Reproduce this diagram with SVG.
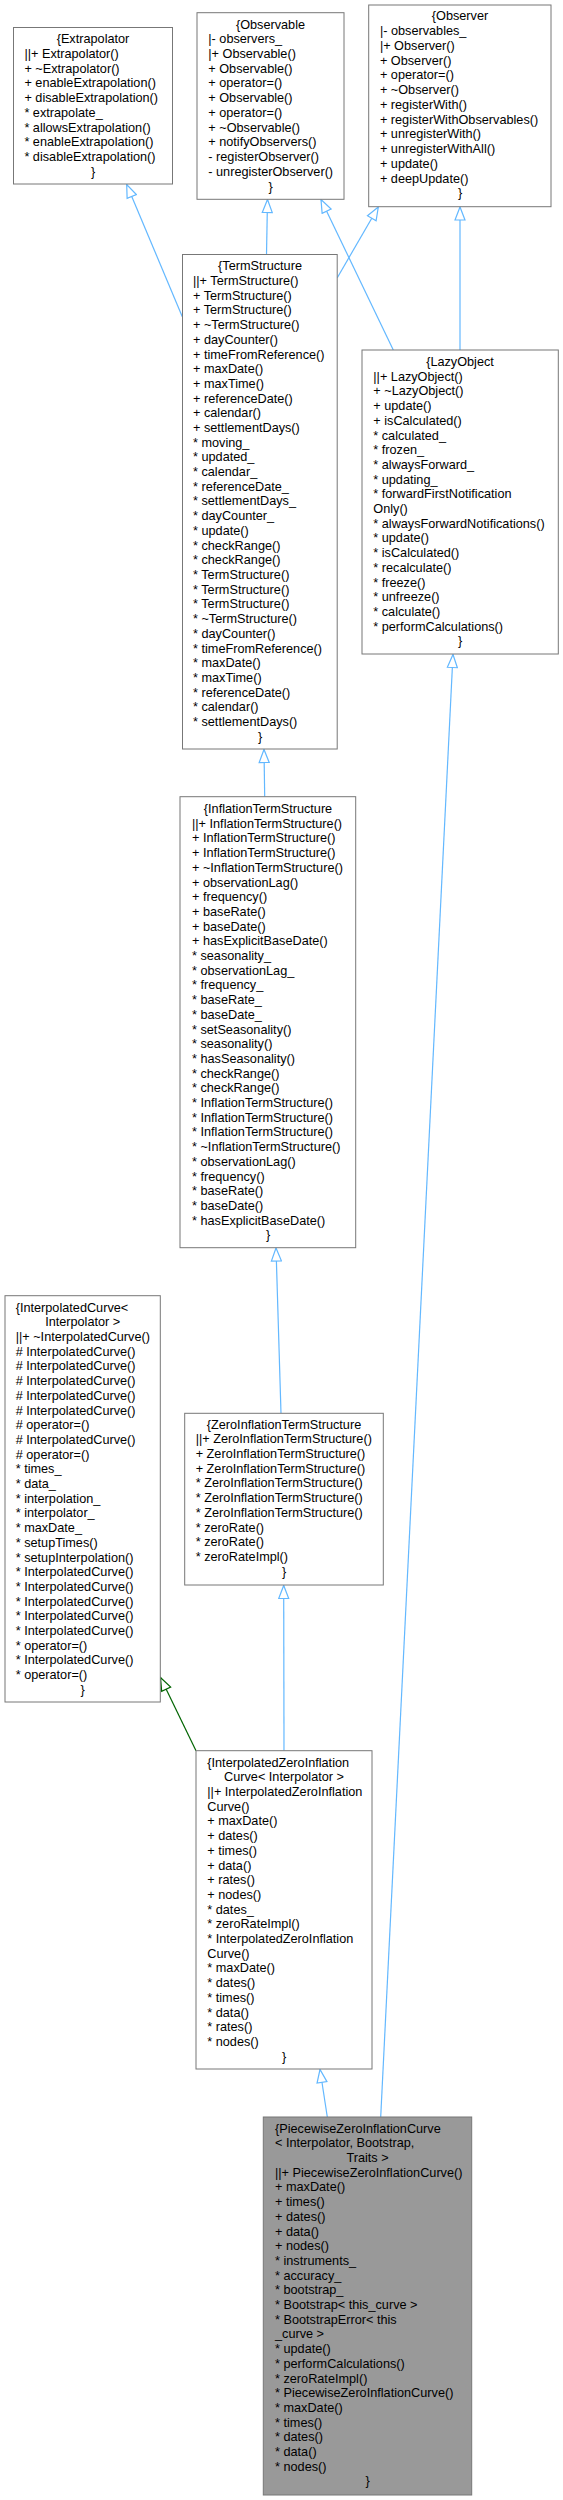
<svg xmlns="http://www.w3.org/2000/svg" width="563" height="2500" viewBox="0 0 563 2500">
<style>
text{font-family:"Liberation Sans",Arial,sans-serif;font-size:12.7px;fill:#000}
.c{text-anchor:middle}
.n rect{fill:#fff;stroke:#777;stroke-width:1}
.h rect{fill:#999}
.e{fill:none;stroke:#63B8FF;stroke-width:1.2}
.g{fill:none;stroke:#006400;stroke-width:1.2}
</style>
<defs>
<marker id="ab" markerWidth="16" markerHeight="12" refX="14" refY="6" orient="auto" markerUnits="userSpaceOnUse"><path d="M1,1 L14,6 L1,11 Z" fill="#fff" stroke="#63B8FF" stroke-width="1.2"/></marker>
<marker id="ag" markerWidth="16" markerHeight="12" refX="14" refY="6" orient="auto" markerUnits="userSpaceOnUse"><path d="M1,1 L14,6 L1,11 Z" fill="#fff" stroke="#006400" stroke-width="1.2"/></marker>
</defs>
<rect width="563" height="2500" fill="#fff"/>
<g id="connectors">
<path class="e" d="M182.3,316.7 L126.7,184.5" marker-end="url(#ab)"/>
<path class="e" d="M266.5,254.5 L267.5,199.5" marker-end="url(#ab)"/>
<path class="e" d="M393.3,350 L321,199.5" marker-end="url(#ab)"/>
<path class="e" d="M337.3,277.7 L378.3,207" marker-end="url(#ab)"/>
<path class="e" d="M460,350 L460,207" marker-end="url(#ab)"/>
<path class="e" d="M264.7,796.7 L264,749.5" marker-end="url(#ab)"/>
<path class="e" d="M281,1413.3 L276,1248" marker-end="url(#ab)"/>
<path class="e" d="M284,1750.7 L283.7,1585.5" marker-end="url(#ab)"/>
<path class="g" d="M196,1750.7 L160.5,1677.5" marker-end="url(#ag)"/>
<path class="e" d="M327.3,2117 L320,2069.5" marker-end="url(#ab)"/>
<path class="e" d="M380.7,2117 L453,654.5" marker-end="url(#ab)"/>
</g>
<g id="Extrapolator" class="n">
<rect x="13.5" y="27.5" width="159" height="156.5"/>
<text class="c" x="93" y="43.3">{Extrapolator</text>
<text x="24.4" y="58"><tspan x="24.4">||+ Extrapolator()</tspan><tspan x="24.4" dy="14.7">+ ~Extrapolator()</tspan><tspan x="24.4" dy="14.7">+ enableExtrapolation()</tspan><tspan x="24.4" dy="14.7">+ disableExtrapolation()</tspan><tspan x="24.4" dy="14.7">* extrapolate_</tspan><tspan x="24.4" dy="14.7">* allowsExtrapolation()</tspan><tspan x="24.4" dy="14.7">* enableExtrapolation()</tspan><tspan x="24.4" dy="14.7">* disableExtrapolation()</tspan></text>
<text class="c" x="93" y="175.6">}</text>
</g>
<g id="Observable" class="n">
<rect x="197" y="12.7" width="147" height="186.6"/>
<text class="c" x="270.5" y="28.6">{Observable</text>
<text x="208.3" y="43.3"><tspan x="208.3">|- observers_</tspan><tspan x="208.3" dy="14.7">|+ Observable()</tspan><tspan x="208.3" dy="14.7">+ Observable()</tspan><tspan x="208.3" dy="14.7">+ operator=()</tspan><tspan x="208.3" dy="14.7">+ Observable()</tspan><tspan x="208.3" dy="14.7">+ operator=()</tspan><tspan x="208.3" dy="14.7">+ ~Observable()</tspan><tspan x="208.3" dy="14.7">+ notifyObservers()</tspan><tspan x="208.3" dy="14.7">- registerObserver()</tspan><tspan x="208.3" dy="14.7">- unregisterObserver()</tspan></text>
<text class="c" x="270.5" y="190.6">}</text>
</g>
<g id="Observer" class="n">
<rect x="368.7" y="5" width="182.3" height="201.7"/>
<text class="c" x="460" y="20.3">{Observer</text>
<text x="379.9" y="35.2"><tspan x="379.9">|- observables_</tspan><tspan x="379.9" dy="14.75">|+ Observer()</tspan><tspan x="379.9" dy="14.75">+ Observer()</tspan><tspan x="379.9" dy="14.75">+ operator=()</tspan><tspan x="379.9" dy="14.75">+ ~Observer()</tspan><tspan x="379.9" dy="14.75">+ registerWith()</tspan><tspan x="379.9" dy="14.75">+ registerWithObservables()</tspan><tspan x="379.9" dy="14.75">+ unregisterWith()</tspan><tspan x="379.9" dy="14.75">+ unregisterWithAll()</tspan><tspan x="379.9" dy="14.75">+ update()</tspan><tspan x="379.9" dy="14.75">+ deepUpdate()</tspan></text>
<text class="c" x="460" y="197.3">}</text>
</g>
<g id="TermStructure" class="n">
<rect x="182.5" y="254.5" width="154.7" height="494.5"/>
<text class="c" x="260" y="270.3">{TermStructure</text>
<text x="193" y="285"><tspan x="193">||+ TermStructure()</tspan><tspan x="193" dy="14.7">+ TermStructure()</tspan><tspan x="193" dy="14.7">+ TermStructure()</tspan><tspan x="193" dy="14.7">+ ~TermStructure()</tspan><tspan x="193" dy="14.7">+ dayCounter()</tspan><tspan x="193" dy="14.7">+ timeFromReference()</tspan><tspan x="193" dy="14.7">+ maxDate()</tspan><tspan x="193" dy="14.7">+ maxTime()</tspan><tspan x="193" dy="14.7">+ referenceDate()</tspan><tspan x="193" dy="14.7">+ calendar()</tspan><tspan x="193" dy="14.7">+ settlementDays()</tspan><tspan x="193" dy="14.7">* moving_</tspan><tspan x="193" dy="14.7">* updated_</tspan><tspan x="193" dy="14.7">* calendar_</tspan><tspan x="193" dy="14.7">* referenceDate_</tspan><tspan x="193" dy="14.7">* settlementDays_</tspan><tspan x="193" dy="14.7">* dayCounter_</tspan><tspan x="193" dy="14.7">* update()</tspan><tspan x="193" dy="14.7">* checkRange()</tspan><tspan x="193" dy="14.7">* checkRange()</tspan><tspan x="193" dy="14.7">* TermStructure()</tspan><tspan x="193" dy="14.7">* TermStructure()</tspan><tspan x="193" dy="14.7">* TermStructure()</tspan><tspan x="193" dy="14.7">* ~TermStructure()</tspan><tspan x="193" dy="14.7">* dayCounter()</tspan><tspan x="193" dy="14.7">* timeFromReference()</tspan><tspan x="193" dy="14.7">* maxDate()</tspan><tspan x="193" dy="14.7">* maxTime()</tspan><tspan x="193" dy="14.7">* referenceDate()</tspan><tspan x="193" dy="14.7">* calendar()</tspan><tspan x="193" dy="14.7">* settlementDays()</tspan></text>
<text class="c" x="260" y="740.7">}</text>
</g>
<g id="LazyObject" class="n">
<rect x="362" y="350" width="196.3" height="304"/>
<text class="c" x="460" y="366">{LazyObject</text>
<text x="373.3" y="380.7"><tspan x="373.3">||+ LazyObject()</tspan><tspan x="373.3" dy="14.7">+ ~LazyObject()</tspan><tspan x="373.3" dy="14.7">+ update()</tspan><tspan x="373.3" dy="14.7">+ isCalculated()</tspan><tspan x="373.3" dy="14.7">* calculated_</tspan><tspan x="373.3" dy="14.7">* frozen_</tspan><tspan x="373.3" dy="14.7">* alwaysForward_</tspan><tspan x="373.3" dy="14.7">* updating_</tspan><tspan x="373.3" dy="14.7">* forwardFirstNotification</tspan><tspan x="373.3" dy="14.7">Only()</tspan><tspan x="373.3" dy="14.7">* alwaysForwardNotifications()</tspan><tspan x="373.3" dy="14.7">* update()</tspan><tspan x="373.3" dy="14.7">* isCalculated()</tspan><tspan x="373.3" dy="14.7">* recalculate()</tspan><tspan x="373.3" dy="14.7">* freeze()</tspan><tspan x="373.3" dy="14.7">* unfreeze()</tspan><tspan x="373.3" dy="14.7">* calculate()</tspan><tspan x="373.3" dy="14.7">* performCalculations()</tspan></text>
<text class="c" x="460" y="645.3">}</text>
</g>
<g id="InflationTermStructure" class="n">
<rect x="180" y="796.7" width="175.7" height="451"/>
<text class="c" x="268" y="813">{InflationTermStructure</text>
<text x="192" y="827.7"><tspan x="192">||+ InflationTermStructure()</tspan><tspan x="192" dy="14.7">+ InflationTermStructure()</tspan><tspan x="192" dy="14.7">+ InflationTermStructure()</tspan><tspan x="192" dy="14.7">+ ~InflationTermStructure()</tspan><tspan x="192" dy="14.7">+ observationLag()</tspan><tspan x="192" dy="14.7">+ frequency()</tspan><tspan x="192" dy="14.7">+ baseRate()</tspan><tspan x="192" dy="14.7">+ baseDate()</tspan><tspan x="192" dy="14.7">+ hasExplicitBaseDate()</tspan><tspan x="192" dy="14.7">* seasonality_</tspan><tspan x="192" dy="14.7">* observationLag_</tspan><tspan x="192" dy="14.7">* frequency_</tspan><tspan x="192" dy="14.7">* baseRate_</tspan><tspan x="192" dy="14.7">* baseDate_</tspan><tspan x="192" dy="14.7">* setSeasonality()</tspan><tspan x="192" dy="14.7">* seasonality()</tspan><tspan x="192" dy="14.7">* hasSeasonality()</tspan><tspan x="192" dy="14.7">* checkRange()</tspan><tspan x="192" dy="14.7">* checkRange()</tspan><tspan x="192" dy="14.7">* InflationTermStructure()</tspan><tspan x="192" dy="14.7">* InflationTermStructure()</tspan><tspan x="192" dy="14.7">* InflationTermStructure()</tspan><tspan x="192" dy="14.7">* ~InflationTermStructure()</tspan><tspan x="192" dy="14.7">* observationLag()</tspan><tspan x="192" dy="14.7">* frequency()</tspan><tspan x="192" dy="14.7">* baseRate()</tspan><tspan x="192" dy="14.7">* baseDate()</tspan><tspan x="192" dy="14.7">* hasExplicitBaseDate()</tspan></text>
<text class="c" x="268" y="1239.3">}</text>
</g>
<g id="InterpolatedCurve" class="n">
<rect x="5" y="1295.7" width="155.3" height="406.3"/>
<text x="15.7" y="1311.6">{InterpolatedCurve&lt;</text>
<text class="c" x="82.7" y="1326.3">Interpolator &gt;</text>
<text x="15.7" y="1341"><tspan x="15.7">||+ ~InterpolatedCurve()</tspan><tspan x="15.7" dy="14.7"># InterpolatedCurve()</tspan><tspan x="15.7" dy="14.7"># InterpolatedCurve()</tspan><tspan x="15.7" dy="14.7"># InterpolatedCurve()</tspan><tspan x="15.7" dy="14.7"># InterpolatedCurve()</tspan><tspan x="15.7" dy="14.7"># InterpolatedCurve()</tspan><tspan x="15.7" dy="14.7"># operator=()</tspan><tspan x="15.7" dy="14.7"># InterpolatedCurve()</tspan><tspan x="15.7" dy="14.7"># operator=()</tspan><tspan x="15.7" dy="14.7">* times_</tspan><tspan x="15.7" dy="14.7">* data_</tspan><tspan x="15.7" dy="14.7">* interpolation_</tspan><tspan x="15.7" dy="14.7">* interpolator_</tspan><tspan x="15.7" dy="14.7">* maxDate_</tspan><tspan x="15.7" dy="14.7">* setupTimes()</tspan><tspan x="15.7" dy="14.7">* setupInterpolation()</tspan><tspan x="15.7" dy="14.7">* InterpolatedCurve()</tspan><tspan x="15.7" dy="14.7">* InterpolatedCurve()</tspan><tspan x="15.7" dy="14.7">* InterpolatedCurve()</tspan><tspan x="15.7" dy="14.7">* InterpolatedCurve()</tspan><tspan x="15.7" dy="14.7">* InterpolatedCurve()</tspan><tspan x="15.7" dy="14.7">* operator=()</tspan><tspan x="15.7" dy="14.7">* InterpolatedCurve()</tspan><tspan x="15.7" dy="14.7">* operator=()</tspan></text>
<text class="c" x="82.7" y="1693.8">}</text>
</g>
<g id="ZeroInflationTermStructure" class="n">
<rect x="184.7" y="1413.3" width="198.6" height="171.7"/>
<text class="c" x="284" y="1428.6">{ZeroInflationTermStructure</text>
<text x="195.7" y="1443.3"><tspan x="195.7">||+ ZeroInflationTermStructure()</tspan><tspan x="195.7" dy="14.7">+ ZeroInflationTermStructure()</tspan><tspan x="195.7" dy="14.7">+ ZeroInflationTermStructure()</tspan><tspan x="195.7" dy="14.7">* ZeroInflationTermStructure()</tspan><tspan x="195.7" dy="14.7">* ZeroInflationTermStructure()</tspan><tspan x="195.7" dy="14.7">* ZeroInflationTermStructure()</tspan><tspan x="195.7" dy="14.7">* zeroRate()</tspan><tspan x="195.7" dy="14.7">* zeroRate()</tspan><tspan x="195.7" dy="14.7">* zeroRateImpl()</tspan></text>
<text class="c" x="284" y="1575.6">}</text>
</g>
<g id="InterpolatedZeroInflationCurve" class="n">
<rect x="196" y="1750.7" width="176" height="318.3"/>
<text x="207.3" y="1766.6">{InterpolatedZeroInflation</text>
<text class="c" x="284" y="1781.3">Curve&lt; Interpolator &gt;</text>
<text x="207.3" y="1796"><tspan x="207.3">||+ InterpolatedZeroInflation</tspan><tspan x="207.3" dy="14.7">Curve()</tspan><tspan x="207.3" dy="14.7">+ maxDate()</tspan><tspan x="207.3" dy="14.7">+ dates()</tspan><tspan x="207.3" dy="14.7">+ times()</tspan><tspan x="207.3" dy="14.7">+ data()</tspan><tspan x="207.3" dy="14.7">+ rates()</tspan><tspan x="207.3" dy="14.7">+ nodes()</tspan><tspan x="207.3" dy="14.7">* dates_</tspan><tspan x="207.3" dy="14.7">* zeroRateImpl()</tspan><tspan x="207.3" dy="14.7">* InterpolatedZeroInflation</tspan><tspan x="207.3" dy="14.7">Curve()</tspan><tspan x="207.3" dy="14.7">* maxDate()</tspan><tspan x="207.3" dy="14.7">* dates()</tspan><tspan x="207.3" dy="14.7">* times()</tspan><tspan x="207.3" dy="14.7">* data()</tspan><tspan x="207.3" dy="14.7">* rates()</tspan><tspan x="207.3" dy="14.7">* nodes()</tspan></text>
<text class="c" x="284" y="2060.6">}</text>
</g>
<g id="PiecewiseZeroInflationCurve" class="n h">
<rect x="263.3" y="2117" width="208.4" height="378"/>
<text x="275" y="2132.6">{PiecewiseZeroInflationCurve</text>
<text x="275" y="2147.3">&lt; Interpolator, Bootstrap,</text>
<text class="c" x="367.5" y="2162">Traits &gt;</text>
<text x="275" y="2176.7"><tspan x="275">||+ PiecewiseZeroInflationCurve()</tspan><tspan x="275" dy="14.7">+ maxDate()</tspan><tspan x="275" dy="14.7">+ times()</tspan><tspan x="275" dy="14.7">+ dates()</tspan><tspan x="275" dy="14.7">+ data()</tspan><tspan x="275" dy="14.7">+ nodes()</tspan><tspan x="275" dy="14.7">* instruments_</tspan><tspan x="275" dy="14.7">* accuracy_</tspan><tspan x="275" dy="14.7">* bootstrap_</tspan><tspan x="275" dy="14.7">* Bootstrap&lt; this_curve &gt;</tspan><tspan x="275" dy="14.7">* BootstrapError&lt; this</tspan><tspan x="275" dy="14.7">_curve &gt;</tspan><tspan x="275" dy="14.7">* update()</tspan><tspan x="275" dy="14.7">* performCalculations()</tspan><tspan x="275" dy="14.7">* zeroRateImpl()</tspan><tspan x="275" dy="14.7">* PiecewiseZeroInflationCurve()</tspan><tspan x="275" dy="14.7">* maxDate()</tspan><tspan x="275" dy="14.7">* times()</tspan><tspan x="275" dy="14.7">* dates()</tspan><tspan x="275" dy="14.7">* data()</tspan><tspan x="275" dy="14.7">* nodes()</tspan></text>
<text class="c" x="367.5" y="2485.4">}</text>
</g>
</svg>
